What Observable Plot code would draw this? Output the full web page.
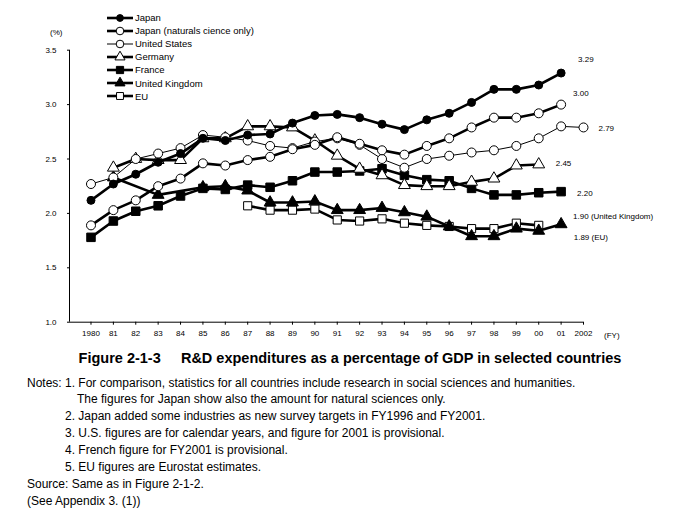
<!DOCTYPE html>
<html><head><meta charset="utf-8">
<script src="https://cdn.jsdelivr.net/npm/d3@7"></script>
<script src="https://cdn.jsdelivr.net/npm/@observablehq/plot@0.6"></script>
<style>
body{margin:0;background:#fff;font-family:Arial,"Liberation Sans",sans-serif;color:#000;}
#page{position:relative;width:695px;height:524px;overflow:hidden;}
#chart{position:absolute;left:0;top:0;}
#legend{position:absolute;left:107px;top:11px;font-size:9.5px;}
#legend .row{display:flex;align-items:center;height:13.1px;white-space:nowrap;}
#legend svg{margin-right:2px;}
.unit{position:absolute;font-size:8px;}
#title{position:absolute;left:0;width:700px;top:349px;text-align:center;font-weight:bold;font-size:14.5px;line-height:18px;white-space:nowrap;}
#notes{position:absolute;left:27px;top:374.5px;font-size:12px;line-height:16.9px;white-space:nowrap;}
</style></head><body>
<div id="page">
<div id="chart"></div>
<div id="legend"></div>
<div class="unit" style="left:50px;top:28px;">(%)</div>
<div class="unit" style="left:604px;top:331px;">(FY)</div>
<div id="title"></div>
<div id="notes"></div>
</div>
<script>
// ---- data ----
const years = [1980,1981,1982,1983,1984,1985,1986,1987,1988,1989,1990,1991,1992,1993,1994,1995,1996,1997,1998,1999,2000,2001,2002];
const xTickLabels = ["1980","81","82","83","84","85","86","87","88","89","90","91","92","93","94","95","96","97","98","99","00","01","2002"];
const yTicks = [1.0,1.5,2.0,2.5,3.0,3.5];
const yTickLabels = ["1.0","1.5","2.0","2.5","3.0","3.5"];

const japanYears = [1980,1981,1982,1983,1984,1985,1986,1987,1988,1989,1990,1991,1992,1993,1994,1995,1996,1997,1998,1999,2000,2001];
const japan   = [2.12,2.27,2.36,2.47,2.55,2.69,2.67,2.72,2.73,2.83,2.90,2.91,2.88,2.82,2.77,2.86,2.92,3.02,3.14,3.14,3.18,3.29];
const japanNS = [1.89,2.03,2.12,2.25,2.32,2.46,2.44,2.49,2.52,2.59,2.63,2.70,2.64,2.58,2.54,2.62,2.69,2.79,2.88,2.88,2.92,3.00];
const usYears = years;
const us      = [2.27,2.33,2.50,2.55,2.60,2.72,2.70,2.67,2.62,2.60,2.66,2.69,2.63,2.50,2.42,2.50,2.53,2.56,2.58,2.62,2.69,2.80,2.79];
const germanyYears = [1981,1982,1983,1984,1985,1986,1987,1988,1989,1990,1991,1992,1993,1994,1995,1996,1997,1998,1999,2000];
const germany = [2.42,2.50,2.49,2.49,2.69,2.69,2.80,2.80,2.79,2.67,2.53,2.41,2.35,2.26,2.25,2.25,2.29,2.32,2.44,2.45];
const franceYears = japanYears;
const france  = [1.78,1.93,2.02,2.07,2.16,2.23,2.22,2.26,2.24,2.30,2.38,2.38,2.39,2.41,2.35,2.31,2.30,2.23,2.17,2.17,2.19,2.20];
const ukYears = [1981,1983,1985,1986,1987,1988,1989,1990,1991,1992,1993,1994,1995,1996,1997,1998,1999,2000,2001];
const uk      = [2.33,2.17,2.24,2.25,2.21,2.10,2.10,2.11,2.03,2.03,2.05,2.01,1.97,1.88,1.79,1.79,1.86,1.84,1.90];
const euYears = [1987,1988,1989,1990,1991,1992,1993,1994,1995,1996,1997,1998,1999,2000];
const eu      = [2.07,2.03,2.03,2.04,1.94,1.93,1.95,1.91,1.89,1.88,1.86,1.86,1.91,1.89];

const seriesNames = ["Japan","Japan (naturals cience only)","United States","Germany","France","United Kingdom","EU"];
const endLabels = ["3.29","3.00","2.79","2.45","2.20","1.90 (United Kingdom)","1.89 (EU)"];

const titleText = "Figure 2-1-3\u00a0\u00a0\u00a0\u00a0\u00a0R&D expenditures as a percentage of GDP in selected countries";
const notes = [
"Notes: 1. For comparison, statistics for all countries include research in social sciences and humanities.",
"The figures for Japan show also the amount for natural sciences only.",
"2. Japan added some industries as new survey targets in FY1996 and FY2001.",
"3. U.S. figures are for calendar years, and figure for 2001 is provisional.",
"4. French figure for FY2001 is provisional.",
"5. EU figures are Eurostat estimates.",
"Source: Same as in Figure 2-1-2.",
"(See Appendix 3. (1))"
];
const noteIndent = [0, 50, 38, 38, 38, 38, 0, 0];

// ---- build tables ----
const rawSeries = [
  {years: japanYears, values: japan},
  {years: japanYears, values: japanNS},
  {years: usYears, values: us},
  {years: germanyYears, values: germany},
  {years: franceYears, values: france},
  {years: ukYears, values: uk},
  {years: euYears, values: eu}
];
const styles = [
  {symbol:"circle",   fill:"black", sw:2.6, r:4},
  {symbol:"circle",   fill:"white", sw:2.6, r:4.5},
  {symbol:"circle",   fill:"white", sw:1,   r:4.5},
  {symbol:"triangle", fill:"white", sw:2.6, r:4.4},
  {symbol:"square",   fill:"black", sw:2.6, r:4.8},
  {symbol:"triangle", fill:"black", sw:2.6, r:4.4},
  {symbol:"square",   fill:"white", sw:2.6, r:4.6}
];
const labelOffsets = [[17,-14],[12,-11],[15,1],[17,-1],[16,2],[12,-8],[35,12]];

const series = rawSeries.map((s,i) => ({
  name: seriesNames[i],
  rows: s.years.map((y,j) => ({year: y, value: s.values[j]})),
  style: styles[i],
  label: endLabels[i],
  off: labelOffsets[i]
}));

const xDomain = [1979.04, 2002];
const marks = [];
marks.push(Plot.ruleY([yTicks[0]], {stroke:"black", strokeWidth:1}));
marks.push(Plot.ruleX([xDomain[0]], {stroke:"black", strokeWidth:1}));
marks.push(Plot.axisX({ticks: years, tickFormat: d => xTickLabels[years.indexOf(d)], tickSize: 3, tickPadding: 5, label: null, fontSize: 8}));
marks.push(Plot.axisY({ticks: yTicks, tickFormat: d => yTickLabels[yTicks.indexOf(d)], tickSize: 2, tickPadding: 11, label: null, fontSize: 8}));

const drawOrder = [6,5,4,3,2,1,0];
for (const i of drawOrder) {
  const s = series[i];
  marks.push(Plot.line(s.rows, {x:"year", y:"value", stroke:"black", strokeWidth:s.style.sw}));
  marks.push(Plot.dot(s.rows, {x:"year", y:"value", symbol:s.style.symbol, r:s.style.r, fill:s.style.fill, stroke:"black", strokeWidth:1}));
}
for (const s of series) {
  const last = s.rows[s.rows.length-1];
  marks.push(Plot.text([last], {x:"year", y:"value", text: () => s.label, textAnchor:"start", dx:s.off[0], dy:s.off[1], fontSize:8, fill:"black"}));
}

const chart = Plot.plot({
  width: 695, height: 345,
  marginLeft: 69, marginRight: 112, marginTop: 49.7, marginBottom: 23.3,
  x: {domain: xDomain},
  y: {domain: [1, 3.5]},
  style: {fontFamily: "Arial, 'Liberation Sans', sans-serif", fontSize: "8px", background: "white", color: "black"},
  marks
});
document.getElementById("chart").appendChild(chart);

// ---- legend ----
const legend = document.getElementById("legend");
series.forEach(s => {
  const row = document.createElement("div");
  row.className = "row";
  const sym = d3.symbol().type(s.style.symbol === "circle" ? d3.symbolCircle : s.style.symbol === "square" ? d3.symbolSquare : d3.symbolTriangle)
    .size(Math.PI * (s.style.r*0.85) ** 2)();
  row.innerHTML = `<svg width="26" height="12"><line x1="0" x2="26" y1="6" y2="6" stroke="black" stroke-width="${s.style.sw}"/><path transform="translate(13,6)" d="${sym}" fill="${s.style.fill}" stroke="black" stroke-width="1"/></svg><span>${s.name}</span>`;
  legend.appendChild(row);
});

document.getElementById("title").textContent = titleText;
const notesEl = document.getElementById("notes");
notes.forEach((t,i) => {
  const d = document.createElement("div");
  d.style.paddingLeft = noteIndent[i] + "px";
  d.textContent = t;
  notesEl.appendChild(d);
});
</script>
</body></html>
